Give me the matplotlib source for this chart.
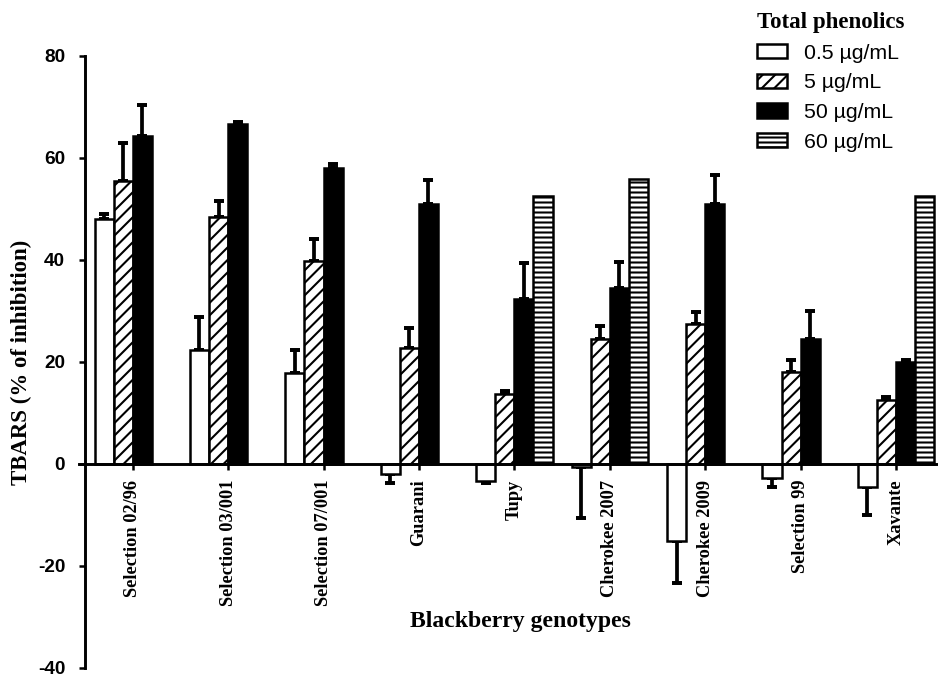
import numpy as np
import matplotlib.pyplot as plt

# === Data ===
genotypes = ["Selection 02/96", "Selection 03/001", "Selection 07/001", "Guarani", "Tupy",
             "Cherokee 2007", "Cherokee 2009", "Selection 99", "Xavante"]
nan = np.nan
v05 = [48.0, 22.3, 17.8, -2.0, -3.4, -0.7, -15.2, -2.8, -4.6]
e05 = [0.9, 6.5, 4.5, 1.8, 0.4, 10.0, 8.1, 1.8, 5.4]
v5 = [55.5, 48.4, 39.7, 22.7, 13.7, 24.4, 27.4, 18.0, 12.5]
e5 = [7.3, 3.2, 4.4, 4.0, 0.6, 2.6, 2.3, 2.4, 0.6]
v50 = [64.2, 66.7, 58.0, 51.0, 32.4, 34.4, 51.0, 24.5, 20.0]
e50 = [6.1, 0.3, 0.7, 4.7, 7.0, 5.1, 5.6, 5.5, 0.4]
v60 = [nan, nan, nan, nan, 52.5, 55.9, nan, nan, 52.5]
labels = ["0.5 µg/mL", "5 µg/mL", "50 µg/mL", "60 µg/mL"]

SERIF = "Liberation Serif"
SANS = "Liberation Sans"
plt.rcParams["axes.unicode_minus"] = False
plt.rcParams["hatch.linewidth"] = 1.0

fig = plt.figure(figsize=(938 / 150, 682 / 150), dpi=150)
ax = fig.add_axes([85 / 938, 1 - 668 / 682, 1 - 85 / 938, (668 - 55.7) / 682])

# spines first (moving a spine resets the ticks)
ax.spines["top"].set_visible(False)
ax.spines["right"].set_visible(False)
ax.spines["bottom"].set_position(("data", 0))
ax.spines["bottom"].set_bounds(-0.56, 8.44)
ax.spines["left"].set_linewidth(1.4)
ax.spines["bottom"].set_linewidth(1.4)

x = np.arange(len(genotypes))
w = 0.2
styles = [dict(color="white", hatch=None),
          dict(color="white", hatch="////"),
          dict(color="black", hatch=None),
          dict(color="white", hatch="-----")]
series = [v05, v5, v50, v60]
errs = [e05, e5, e50, None]

for i, (vals, err, st) in enumerate(zip(series, errs, styles)):
    pos = x + (i - 1.5) * w
    vals = np.array(vals, dtype=float)
    ax.bar(pos, vals, w, color=st["color"], edgecolor="black", linewidth=1.2,
           hatch=st["hatch"], label=labels[i], zorder=2)
    if err is not None:
        err = np.array(err)
        lo = np.where(vals < 0, err, 0)
        hi = np.where(vals >= 0, err, 0)
        ax.errorbar(pos, vals, yerr=[lo, hi], fmt="none", ecolor="black",
                    elinewidth=1.8, capsize=2.5, capthick=1.9, zorder=1)

ax.set_xlim(-0.5, 8.44)
ax.set_ylim(-40, 80)
ax.set_yticks([-40, -20, 0, 20, 40, 60, 80])
ax.set_xticks(x)
ax.tick_params(axis="y", direction="out", length=3, width=1.2, pad=6.5)
ax.tick_params(axis="x", direction="out", length=3, width=1.2, pad=4.5)
ax.set_xticklabels(genotypes, rotation=90, fontfamily=SERIF, fontweight="bold", fontsize=8.8,
                   va="top")
for t in ax.get_yticklabels():
    t.set_fontfamily(SANS)
    t.set_fontweight("bold")
    t.set_fontsize(9.1)

fig.text(0.555, 1 - 621 / 682, "Blackberry genotypes", ha="center", va="center",
         fontfamily=SERIF, fontweight="bold", fontsize=11.4)
fig.text(21 / 938, 1 - 362 / 682, "TBARS (% of inhibition)", ha="center", va="center",
         rotation=90, fontfamily=SERIF, fontweight="bold", fontsize=11)

leg = ax.legend(loc="upper left", bbox_to_anchor=(757 / 938, 1 - 12 / 682),
                bbox_transform=fig.transFigure, frameon=False, title="Total phenolics",
                title_fontproperties=dict(family=SERIF, weight="bold", size=11),
                prop=dict(family=SANS, size=10.2), alignment="left",
                handlelength=1.4, handleheight=0.65, handletextpad=0.8,
                labelspacing=0.5, borderpad=0, borderaxespad=0)

fig.savefig("out.png", dpi=150)
